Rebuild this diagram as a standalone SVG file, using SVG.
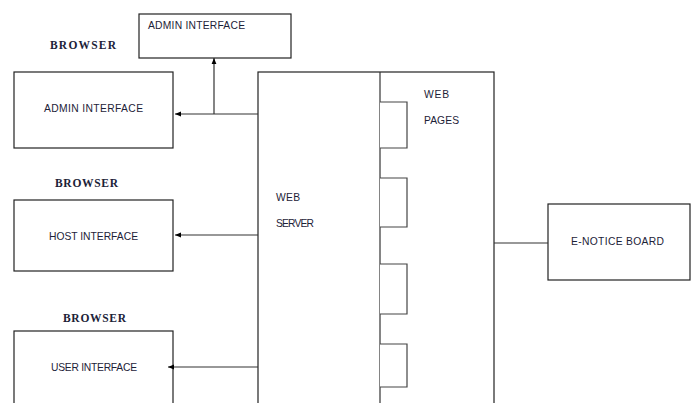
<svg xmlns="http://www.w3.org/2000/svg" width="695" height="403" viewBox="0 0 695 403">
<style>
.box{fill:#fff;stroke:#222;stroke-width:1.2}
.pg{fill:#fff;stroke:#444;stroke-width:1.2}
.t{font-family:"Liberation Sans",Arial,sans-serif;font-size:10.3px;fill:#1c2238}
.b{font-family:"Liberation Serif","Times New Roman",serif;font-size:11.5px;font-weight:bold;fill:#1c2238}
.c{fill:none;stroke:#333;stroke-width:1.2}
</style>
<defs>
<marker id="ah" viewBox="0 0 10 10" refX="10" refY="5" markerWidth="6" markerHeight="6" orient="auto" markerUnits="userSpaceOnUse">
<path d="M0,1 L10,5 L0,9 Z" fill="#000"/>
</marker>
</defs>
<rect width="695" height="403" fill="#fff"/>
<g id="server">
<rect class="box" x="258" y="72" width="236" height="340"/>
<line class="c" x1="380" y1="72" x2="380" y2="403"/>
<text class="t" x="276" y="201" textLength="24">WEB</text>
<text class="t" x="276" y="227" textLength="38">SERVER</text>
<text class="t" x="424" y="98" textLength="25">WEB</text>
<text class="t" x="424" y="124" textLength="35">PAGES</text>
</g>
<g id="pages">
<path class="pg" d="M380,102 H407 V148 H380"/>
<path class="pg" d="M380,178 H407 V227 H380"/>
<path class="pg" d="M380,264 H407 V314 H380"/>
<path class="pg" d="M380,344 H407 V387 H380"/>
</g>
<g id="admin-top">
<rect class="box" x="139" y="14" width="152" height="44"/>
<text class="t" x="148" y="29" textLength="97">ADMIN INTERFACE</text>
</g>
<g id="admin">
<text class="b" x="50" y="49" textLength="66">BROWSER</text>
<rect class="box" x="14" y="72" width="159" height="76"/>
<text class="t" x="44" y="112" textLength="99">ADMIN INTERFACE</text>
</g>
<g id="host">
<text class="b" x="55" y="187" textLength="63">BROWSER</text>
<rect class="box" x="14" y="200" width="159" height="71"/>
<text class="t" x="49" y="240" textLength="89">HOST INTERFACE</text>
</g>
<g id="user">
<text class="b" x="63" y="322" textLength="63">BROWSER</text>
<rect class="box" x="14" y="331" width="159" height="90"/>
<text class="t" x="51" y="371" textLength="86">USER INTERFACE</text>
</g>
<g id="notice">
<rect class="box" x="548" y="204" width="142" height="76"/>
<text class="t" x="571" y="245" textLength="93">E-NOTICE BOARD</text>
</g>
<g id="connectors">
<line class="c" x1="258" y1="114" x2="175" y2="114" marker-end="url(#ah)"/>
<line class="c" x1="214" y1="114" x2="214" y2="58" marker-end="url(#ah)"/>
<line class="c" x1="258" y1="235" x2="175" y2="235" marker-end="url(#ah)"/>
<line class="c" x1="258" y1="367" x2="168" y2="367" marker-end="url(#ah)"/>
<line class="c" x1="494" y1="243" x2="548" y2="243"/>
</g>
</svg>
